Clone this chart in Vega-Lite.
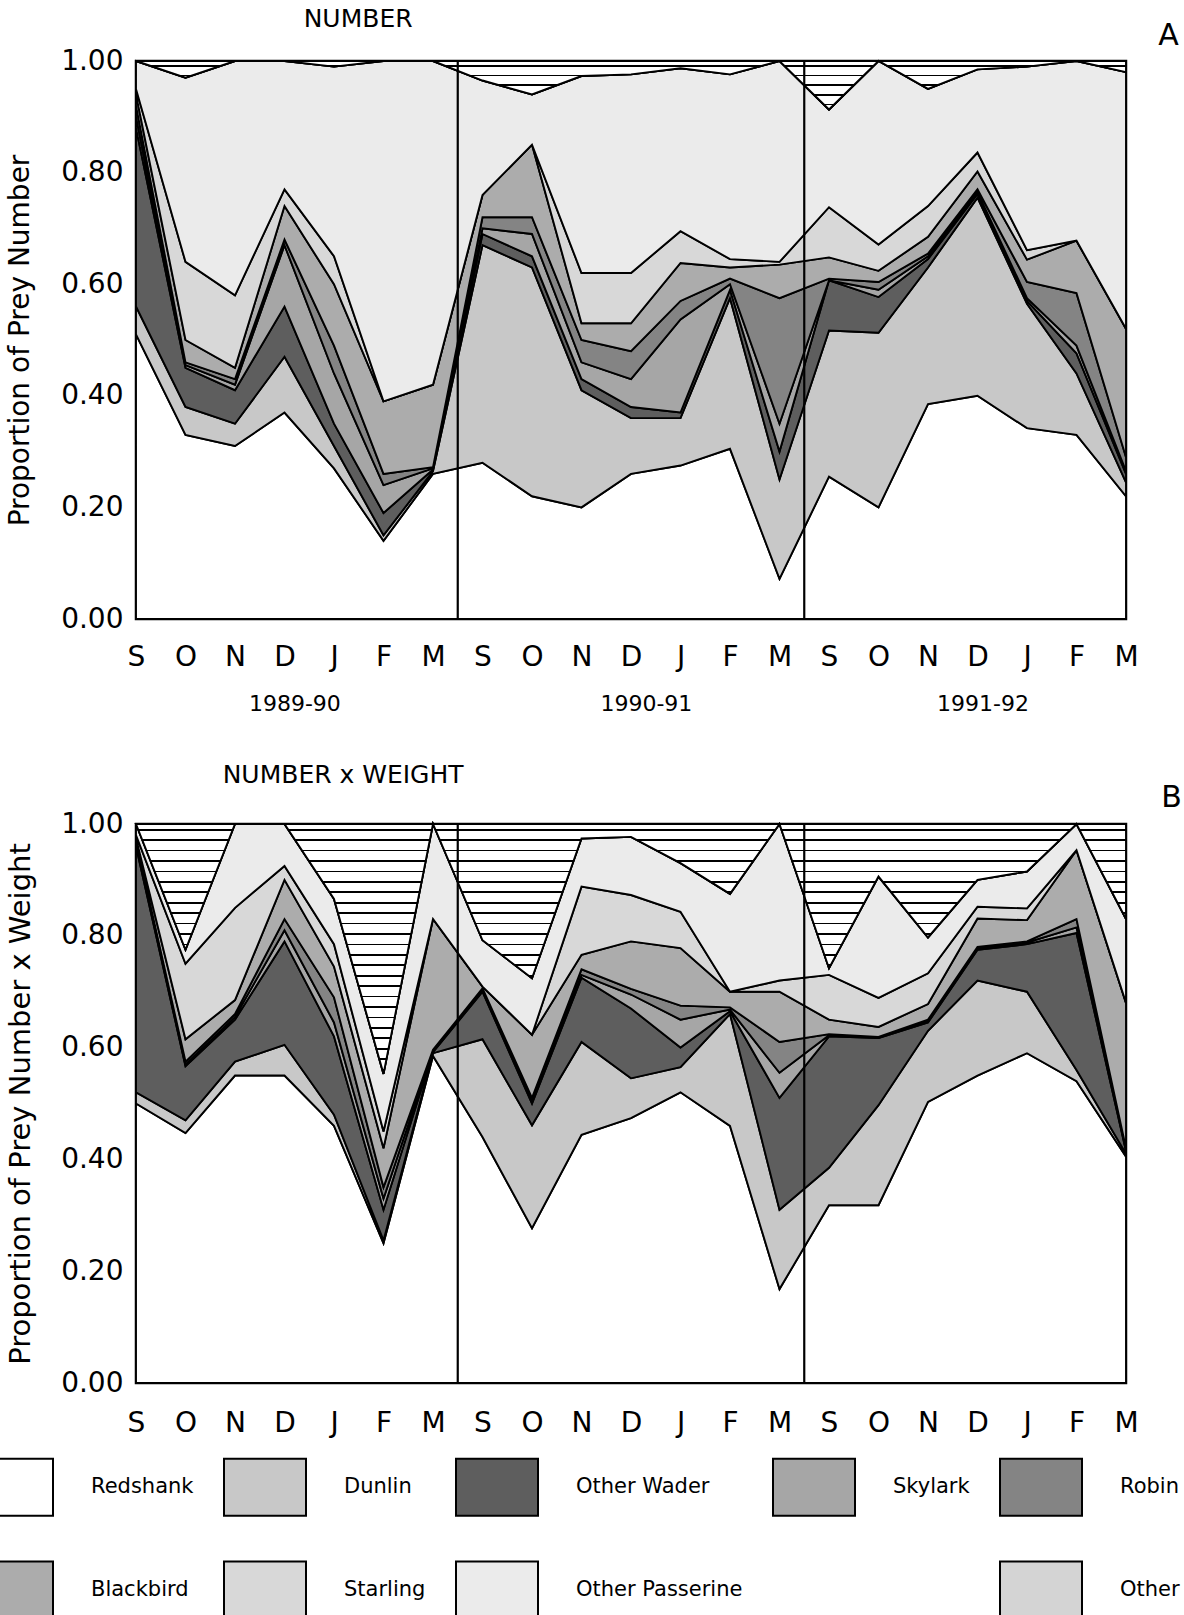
{
  "$schema": "https://vega.github.io/schema/vega-lite/v6.json",
  "background": "white",
  "padding": {"left": -30, "top": 5, "right": 0, "bottom": 0},
  "config": {
    "font": "DejaVu Sans",
    "view": {"stroke": "black", "strokeWidth": 2.5},
    "axis": {"grid": false, "domain": false, "ticks": false, "tickSize": 0, "labelColor": "black", "titleColor": "black", "titleFontWeight": "normal", "labelFont": "DejaVu Sans", "titleFont": "DejaVu Sans", "labelFlush": false, "labelOverlap": false},
    "title": {"fontWeight": "normal", "color": "black", "font": "DejaVu Sans"}
  },
  "datasets": {
    "cats": [
      {"cat": "Redshank", "k": 0}, {"cat": "Dunlin", "k": 1}, {"cat": "Other Wader", "k": 2},
      {"cat": "Skylark", "k": 3}, {"cat": "Robin", "k": 4}, {"cat": "Blackbird", "k": 5},
      {"cat": "Starling", "k": 6}, {"cat": "Other Passerine", "k": 7}, {"cat": "Other", "k": 8}
    ],
    "seps": [{"sep": 6.5}, {"sep": 13.5}],
    "A": [
      {"i": 0, "Redshank": 0.51, "Dunlin": 0.05, "Other Wader": 0.32, "Skylark": 0.02, "Robin": 0.02, "Blackbird": 0.02, "Starling": 0.01, "Other Passerine": 0.05, "Other": 0},
      {"i": 1, "Redshank": 0.33, "Dunlin": 0.05, "Other Wader": 0.07, "Skylark": 0.005, "Robin": 0.005, "Blackbird": 0.04, "Starling": 0.14, "Other Passerine": 0.33, "Other": 0.03},
      {"i": 2, "Redshank": 0.31, "Dunlin": 0.04, "Other Wader": 0.06, "Skylark": 0.01, "Robin": 0.01, "Blackbird": 0.02, "Starling": 0.13, "Other Passerine": 0.42, "Other": 0},
      {"i": 3, "Redshank": 0.37, "Dunlin": 0.10, "Other Wader": 0.09, "Skylark": 0.11, "Robin": 0.01, "Blackbird": 0.06, "Starling": 0.03, "Other Passerine": 0.23, "Other": 0},
      {"i": 4, "Redshank": 0.27, "Dunlin": 0.04, "Other Wader": 0.04, "Skylark": 0.09, "Robin": 0.05, "Blackbird": 0.11, "Starling": 0.05, "Other Passerine": 0.34, "Other": 0.01},
      {"i": 5, "Redshank": 0.14, "Dunlin": 0.01, "Other Wader": 0.04, "Skylark": 0.05, "Robin": 0.02, "Blackbird": 0.13, "Starling": 0, "Other Passerine": 0.61, "Other": 0},
      {"i": 6, "Redshank": 0.26, "Dunlin": 0.005, "Other Wader": 0.003, "Skylark": 0.002, "Robin": 0.002, "Blackbird": 0.148, "Starling": 0, "Other Passerine": 0.58, "Other": 0},
      {"i": 7, "Redshank": 0.28, "Dunlin": 0.39, "Other Wader": 0.02, "Skylark": 0.01, "Robin": 0.02, "Blackbird": 0.04, "Starling": 0, "Other Passerine": 0.205, "Other": 0.035},
      {"i": 8, "Redshank": 0.22, "Dunlin": 0.41, "Other Wader": 0.02, "Skylark": 0.04, "Robin": 0.03, "Blackbird": 0.13, "Starling": 0, "Other Passerine": 0.09, "Other": 0.06},
      {"i": 9, "Redshank": 0.20, "Dunlin": 0.21, "Other Wader": 0.02, "Skylark": 0.03, "Robin": 0.04, "Blackbird": 0.03, "Starling": 0.09, "Other Passerine": 0.353, "Other": 0.027},
      {"i": 10, "Redshank": 0.26, "Dunlin": 0.10, "Other Wader": 0.02, "Skylark": 0.05, "Robin": 0.05, "Blackbird": 0.05, "Starling": 0.09, "Other Passerine": 0.356, "Other": 0.024},
      {"i": 11, "Redshank": 0.275, "Dunlin": 0.085, "Other Wader": 0.01, "Skylark": 0.167, "Robin": 0.033, "Blackbird": 0.068, "Starling": 0.057, "Other Passerine": 0.292, "Other": 0.013},
      {"i": 12, "Redshank": 0.305, "Dunlin": 0.27, "Other Wader": 0.015, "Skylark": 0.01, "Robin": 0.01, "Blackbird": 0.02, "Starling": 0.015, "Other Passerine": 0.331, "Other": 0.024},
      {"i": 13, "Redshank": 0.072, "Dunlin": 0.178, "Other Wader": 0.05, "Skylark": 0.05, "Robin": 0.225, "Blackbird": 0.06, "Starling": 0.005, "Other Passerine": 0.36, "Other": 0},
      {"i": 14, "Redshank": 0.255, "Dunlin": 0.262, "Other Wader": 0.09, "Skylark": 0, "Robin": 0.003, "Blackbird": 0.038, "Starling": 0.09, "Other Passerine": 0.175, "Other": 0.087},
      {"i": 15, "Redshank": 0.20, "Dunlin": 0.313, "Other Wader": 0.064, "Skylark": 0.013, "Robin": 0.014, "Blackbird": 0.02, "Starling": 0.047, "Other Passerine": 0.329, "Other": 0},
      {"i": 16, "Redshank": 0.385, "Dunlin": 0.245, "Other Wader": 0.015, "Skylark": 0.005, "Robin": 0.005, "Blackbird": 0.03, "Starling": 0.055, "Other Passerine": 0.21, "Other": 0.05},
      {"i": 17, "Redshank": 0.40, "Dunlin": 0.355, "Other Wader": 0.007, "Skylark": 0.003, "Robin": 0.005, "Blackbird": 0.032, "Starling": 0.034, "Other Passerine": 0.149, "Other": 0.015},
      {"i": 18, "Redshank": 0.342, "Dunlin": 0.223, "Other Wader": 0.005, "Skylark": 0.005, "Robin": 0.029, "Blackbird": 0.04, "Starling": 0.017, "Other Passerine": 0.329, "Other": 0.01},
      {"i": 19, "Redshank": 0.33, "Dunlin": 0.11, "Other Wader": 0.036, "Skylark": 0.014, "Robin": 0.094, "Blackbird": 0.094, "Starling": 0, "Other Passerine": 0.322, "Other": 0},
      {"i": 20, "Redshank": 0.22, "Dunlin": 0.025, "Other Wader": 0.015, "Skylark": 0.005, "Robin": 0.025, "Blackbird": 0.23, "Starling": 0, "Other Passerine": 0.46, "Other": 0.02}
    ],
    "B": [
      {"i": 0, "Redshank": 0.50, "Dunlin": 0.02, "Other Wader": 0.44, "Skylark": 0.005, "Robin": 0.005, "Blackbird": 0.005, "Starling": 0.005, "Other Passerine": 0.02, "Other": 0},
      {"i": 1, "Redshank": 0.447, "Dunlin": 0.023, "Other Wader": 0.097, "Skylark": 0.003, "Robin": 0.005, "Blackbird": 0.04, "Starling": 0.135, "Other Passerine": 0.025, "Other": 0.225},
      {"i": 2, "Redshank": 0.55, "Dunlin": 0.025, "Other Wader": 0.075, "Skylark": 0.005, "Robin": 0.005, "Blackbird": 0.025, "Starling": 0.165, "Other Passerine": 0.15, "Other": 0},
      {"i": 3, "Redshank": 0.55, "Dunlin": 0.055, "Other Wader": 0.185, "Skylark": 0.02, "Robin": 0.02, "Blackbird": 0.07, "Starling": 0.025, "Other Passerine": 0.075, "Other": 0},
      {"i": 4, "Redshank": 0.46, "Dunlin": 0.02, "Other Wader": 0.14, "Skylark": 0.025, "Robin": 0.045, "Blackbird": 0.055, "Starling": 0.04, "Other Passerine": 0.081, "Other": 0.134},
      {"i": 5, "Redshank": 0.25, "Dunlin": 0.005, "Other Wader": 0.055, "Skylark": 0.02, "Robin": 0.02, "Blackbird": 0.07, "Starling": 0.03, "Other Passerine": 0.103, "Other": 0.447},
      {"i": 6, "Redshank": 0.585, "Dunlin": 0.005, "Other Wader": 0.002, "Skylark": 0.002, "Robin": 0.002, "Blackbird": 0.234, "Starling": 0, "Other Passerine": 0.17, "Other": 0},
      {"i": 7, "Redshank": 0.44, "Dunlin": 0.175, "Other Wader": 0.085, "Skylark": 0.003, "Robin": 0.003, "Blackbird": 0.003, "Starling": 0, "Other Passerine": 0.083, "Other": 0.208},
      {"i": 8, "Redshank": 0.277, "Dunlin": 0.184, "Other Wader": 0.039, "Skylark": 0.005, "Robin": 0.005, "Blackbird": 0.113, "Starling": 0, "Other Passerine": 0.101, "Other": 0.276},
      {"i": 9, "Redshank": 0.444, "Dunlin": 0.166, "Other Wader": 0.115, "Skylark": 0.005, "Robin": 0.01, "Blackbird": 0.026, "Starling": 0.122, "Other Passerine": 0.086, "Other": 0.026},
      {"i": 10, "Redshank": 0.474, "Dunlin": 0.071, "Other Wader": 0.125, "Skylark": 0.025, "Robin": 0.01, "Blackbird": 0.085, "Starling": 0.083, "Other Passerine": 0.104, "Other": 0.023},
      {"i": 11, "Redshank": 0.52, "Dunlin": 0.045, "Other Wader": 0.035, "Skylark": 0.05, "Robin": 0.025, "Blackbird": 0.103, "Starling": 0.065, "Other Passerine": 0.087, "Other": 0.07},
      {"i": 12, "Redshank": 0.46, "Dunlin": 0.20, "Other Wader": 0.005, "Skylark": 0.003, "Robin": 0.004, "Blackbird": 0.028, "Starling": 0, "Other Passerine": 0.175, "Other": 0.125},
      {"i": 13, "Redshank": 0.168, "Dunlin": 0.142, "Other Wader": 0.20, "Skylark": 0.045, "Robin": 0.055, "Blackbird": 0.09, "Starling": 0.02, "Other Passerine": 0.28, "Other": 0},
      {"i": 14, "Redshank": 0.318, "Dunlin": 0.067, "Other Wader": 0.235, "Skylark": 0.002, "Robin": 0.002, "Blackbird": 0.026, "Starling": 0.08, "Other Passerine": 0.012, "Other": 0.258},
      {"i": 15, "Redshank": 0.318, "Dunlin": 0.179, "Other Wader": 0.12, "Skylark": 0.001, "Robin": 0.001, "Blackbird": 0.018, "Starling": 0.052, "Other Passerine": 0.217, "Other": 0.094},
      {"i": 16, "Redshank": 0.503, "Dunlin": 0.127, "Other Wader": 0.015, "Skylark": 0.003, "Robin": 0.002, "Blackbird": 0.028, "Starling": 0.055, "Other Passerine": 0.064, "Other": 0.203},
      {"i": 17, "Redshank": 0.55, "Dunlin": 0.17, "Other Wader": 0.055, "Skylark": 0.003, "Robin": 0.002, "Blackbird": 0.051, "Starling": 0.021, "Other Passerine": 0.048, "Other": 0.10},
      {"i": 18, "Redshank": 0.59, "Dunlin": 0.11, "Other Wader": 0.085, "Skylark": 0.003, "Robin": 0.002, "Blackbird": 0.038, "Starling": 0.021, "Other Passerine": 0.066, "Other": 0.085},
      {"i": 19, "Redshank": 0.54, "Dunlin": 0.02, "Other Wader": 0.245, "Skylark": 0.01, "Robin": 0.015, "Blackbird": 0.123, "Starling": 0, "Other Passerine": 0.047, "Other": 0},
      {"i": 20, "Redshank": 0.405, "Dunlin": 0.005, "Other Wader": 0.005, "Skylark": 0.002, "Robin": 0.003, "Blackbird": 0.26, "Starling": 0, "Other Passerine": 0.15, "Other": 0.17}
    ]
  },
  "spacing": 45,
  "vconcat": [
    {
      "width": 990,
      "height": 558,
      "title": {"text": "NUMBER", "anchor": "start", "dx": 297, "fontSize": 25, "offset": -12},
      "layer": [
        {
          "data": {"name": "A"},
          "transform": [
            {"fold": ["Redshank", "Dunlin", "Other Wader", "Skylark", "Robin", "Blackbird", "Starling", "Other Passerine", "Other"], "as": ["cat", "p"]},
            {"lookup": "cat", "from": {"data": {"name": "cats"}, "key": "cat", "fields": ["k"]}}
          ],
          "mark": {"type": "area", "stroke": "black", "strokeWidth": 1.9, "opacity": 1, "strokeMiterLimit": 4},
          "encoding": {
            "x": {"field": "i", "type": "quantitative", "scale": {"domain": [0, 20], "nice": false, "zero": false},
                  "axis": {"values": [0,1,2,3,4,5,6,7,8,9,10,11,12,13,14,15,16,17,18,19,20], "labelExpr": "['S','O','N','D','J','F','M'][datum.value % 7]", "labelFontSize": 28, "labelPadding": 24, "title": null}},
            "y": {"field": "p", "type": "quantitative", "stack": "zero", "scale": {"domain": [0, 1], "nice": false},
                  "axis": {"values": [0, 0.2, 0.4, 0.6, 0.8, 1], "format": ".2f", "labelFontSize": 28, "labelPadding": 13, "title": "Proportion of Prey Number", "titleFontSize": 28, "titlePadding": 26}},
            "color": {"field": "cat", "type": "nominal",
                      "scale": {"domain": ["Redshank", "Dunlin", "Other Wader", "Skylark", "Robin", "Blackbird", "Starling", "Other Passerine", " ", "Other"],
                                "range": ["#ffffff", "#c8c8c8", "#5e5e5e", "#a6a6a6", "#848484", "#acacac", "#d8d8d8", "#ebebeb", "#ffffff", "#d4d4d4"]},
                      "legend": {"title": null, "orient": "none", "legendX": -166, "legendY": 1384, "direction": "horizontal", "columns": 5,
                                 "symbolType": "M-1,-0.695H1V0.695H-1Z", "symbolSize": 6724, "symbolStrokeColor": "black", "symbolStrokeWidth": 2, "symbolOpacity": 1,
                                 "labelFontSize": 21, "labelFont": "DejaVu Sans", "labelColor": "black", "labelOffset": 37, "labelLimit": 400,
                                 "columnPadding": 26, "rowPadding": 28, "padding": 0,
                                 "encode": {"symbols": {"update": {"opacity": {"signal": "datum.value === ' ' ? 0 : 1"}}}}}},
            "order": {"field": "k", "type": "quantitative"}
          }
        },
        {
          "data": {"name": "A"},
          "transform": [
            {"fold": ["Redshank", "Dunlin", "Other Wader", "Skylark", "Robin", "Blackbird", "Starling", "Other Passerine", "Other"], "as": ["cat", "p"]},
            {"lookup": "cat", "from": {"data": {"name": "cats"}, "key": "cat", "fields": ["k"]}},
            {"stack": "p", "groupby": ["i"], "sort": [{"field": "k", "order": "ascending"}], "as": ["lo", "hi"], "offset": "zero"},
            {"filter": "datum.cat === 'Other'"}
          ],
          "mark": {"type": "area", "stroke": "black", "strokeWidth": 1.9, "strokeMiterLimit": 4,
                   "color": {"gradient": "linear", "x1": 0, "y1": 0, "x2": 0, "y2": 1, "stops": [
                     {"offset": 0, "color": "#ffffff"},
                     {"offset": 0.08, "color": "#ffffff"}, {"offset": 0.08, "color": "#000000"}, {"offset": 0.115, "color": "#000000"}, {"offset": 0.115, "color": "#ffffff"},
                     {"offset": 0.28, "color": "#ffffff"}, {"offset": 0.28, "color": "#000000"}, {"offset": 0.315, "color": "#000000"}, {"offset": 0.315, "color": "#ffffff"},
                     {"offset": 0.48, "color": "#ffffff"}, {"offset": 0.48, "color": "#000000"}, {"offset": 0.515, "color": "#000000"}, {"offset": 0.515, "color": "#ffffff"},
                     {"offset": 0.68, "color": "#ffffff"}, {"offset": 0.68, "color": "#000000"}, {"offset": 0.715, "color": "#000000"}, {"offset": 0.715, "color": "#ffffff"},
                     {"offset": 0.88, "color": "#ffffff"}, {"offset": 0.88, "color": "#000000"}, {"offset": 0.915, "color": "#000000"}, {"offset": 0.915, "color": "#ffffff"},
                     {"offset": 1, "color": "#ffffff"}]}},
          "encoding": {
            "x": {"field": "i", "type": "quantitative", "axis": null},
            "y": {"field": "hi", "type": "quantitative", "axis": null},
            "y2": {"field": "lo"}
          }
        },
        {
          "data": {"name": "seps"},
          "mark": {"type": "rule", "color": "black", "strokeWidth": 2.2},
          "encoding": {
            "x": {"field": "sep", "type": "quantitative",
                  "axis": {"orient": "bottom", "values": [3.2, 10.3, 17.1], "labelExpr": "datum.value < 5 ? '1989-90' : datum.value < 12 ? '1990-91' : '1991-92'", "labelFontSize": 22, "labelPadding": 74, "title": null}},
            "y": {"datum": 0, "type": "quantitative",
                  "axis": {"orient": "right", "labels": false, "title": "A", "titleAngle": 0, "titleFontSize": 30, "titleX": 42, "titleY": -26, "titleAlign": "center", "titleBaseline": "middle"}},
            "y2": {"datum": 1}
          }
        }
      ],
      "resolve": {"axis": {"x": "independent", "y": "independent"}}
    },
    {
      "width": 990,
      "height": 559,
      "title": {"text": "NUMBER x WEIGHT", "anchor": "start", "dx": 216, "fontSize": 25, "offset": -6},
      "layer": [
        {
          "data": {"name": "B"},
          "transform": [
            {"fold": ["Redshank", "Dunlin", "Other Wader", "Skylark", "Robin", "Blackbird", "Starling", "Other Passerine", "Other"], "as": ["cat", "p"]},
            {"lookup": "cat", "from": {"data": {"name": "cats"}, "key": "cat", "fields": ["k"]}}
          ],
          "mark": {"type": "area", "stroke": "black", "strokeWidth": 1.9, "opacity": 1, "strokeMiterLimit": 4},
          "encoding": {
            "x": {"field": "i", "type": "quantitative", "scale": {"domain": [0, 20], "nice": false, "zero": false},
                  "axis": {"values": [0,1,2,3,4,5,6,7,8,9,10,11,12,13,14,15,16,17,18,19,20], "labelExpr": "['S','O','N','D','J','F','M'][datum.value % 7]", "labelFontSize": 28, "labelPadding": 26, "title": null}},
            "y": {"field": "p", "type": "quantitative", "stack": "zero", "scale": {"domain": [0, 1], "nice": false},
                  "axis": {"values": [0, 0.2, 0.4, 0.6, 0.8, 1], "format": ".2f", "labelFontSize": 28, "labelPadding": 13, "title": "Proportion of Prey Number x Weight", "titleFontSize": 29, "titlePadding": 25}},
            "color": {"field": "cat", "type": "nominal",
                      "scale": {"domain": ["Redshank", "Dunlin", "Other Wader", "Skylark", "Robin", "Blackbird", "Starling", "Other Passerine", " ", "Other"],
                                "range": ["#ffffff", "#c8c8c8", "#5e5e5e", "#a6a6a6", "#848484", "#acacac", "#d8d8d8", "#ebebeb", "#ffffff", "#d4d4d4"]},
                      "legend": {"title": null, "orient": "none", "legendX": -166, "legendY": 1384, "direction": "horizontal", "columns": 5,
                                 "symbolType": "M-1,-0.695H1V0.695H-1Z", "symbolSize": 6724, "symbolStrokeColor": "black", "symbolStrokeWidth": 2, "symbolOpacity": 1,
                                 "labelFontSize": 21, "labelFont": "DejaVu Sans", "labelColor": "black", "labelOffset": 37, "labelLimit": 400,
                                 "columnPadding": 26, "rowPadding": 28, "padding": 0,
                                 "encode": {"symbols": {"update": {"opacity": {"signal": "datum.value === ' ' ? 0 : 1"}}}}}},
            "order": {"field": "k", "type": "quantitative"}
          }
        },
        {
          "data": {"name": "B"},
          "transform": [
            {"fold": ["Redshank", "Dunlin", "Other Wader", "Skylark", "Robin", "Blackbird", "Starling", "Other Passerine", "Other"], "as": ["cat", "p"]},
            {"lookup": "cat", "from": {"data": {"name": "cats"}, "key": "cat", "fields": ["k"]}},
            {"stack": "p", "groupby": ["i"], "sort": [{"field": "k", "order": "ascending"}], "as": ["lo", "hi"], "offset": "zero"},
            {"filter": "datum.cat === 'Other'"}
          ],
          "mark": {"type": "area", "stroke": "black", "strokeWidth": 1.9, "strokeMiterLimit": 4,
                   "color": {"gradient": "linear", "x1": 0, "y1": 0, "x2": 0, "y2": 1, "stops": [
                     {"offset": 0, "color": "#ffffff"},
                     {"offset": 0.020, "color": "#ffffff"}, {"offset": 0.020, "color": "#000000"}, {"offset": 0.027, "color": "#000000"}, {"offset": 0.027, "color": "#ffffff"},
                     {"offset": 0.062, "color": "#ffffff"}, {"offset": 0.062, "color": "#000000"}, {"offset": 0.069, "color": "#000000"}, {"offset": 0.069, "color": "#ffffff"},
                     {"offset": 0.103, "color": "#ffffff"}, {"offset": 0.103, "color": "#000000"}, {"offset": 0.110, "color": "#000000"}, {"offset": 0.110, "color": "#ffffff"},
                     {"offset": 0.145, "color": "#ffffff"}, {"offset": 0.145, "color": "#000000"}, {"offset": 0.152, "color": "#000000"}, {"offset": 0.152, "color": "#ffffff"},
                     {"offset": 0.187, "color": "#ffffff"}, {"offset": 0.187, "color": "#000000"}, {"offset": 0.194, "color": "#000000"}, {"offset": 0.194, "color": "#ffffff"},
                     {"offset": 0.229, "color": "#ffffff"}, {"offset": 0.229, "color": "#000000"}, {"offset": 0.236, "color": "#000000"}, {"offset": 0.236, "color": "#ffffff"},
                     {"offset": 0.270, "color": "#ffffff"}, {"offset": 0.270, "color": "#000000"}, {"offset": 0.277, "color": "#000000"}, {"offset": 0.277, "color": "#ffffff"},
                     {"offset": 0.312, "color": "#ffffff"}, {"offset": 0.312, "color": "#000000"}, {"offset": 0.319, "color": "#000000"}, {"offset": 0.319, "color": "#ffffff"},
                     {"offset": 0.354, "color": "#ffffff"}, {"offset": 0.354, "color": "#000000"}, {"offset": 0.361, "color": "#000000"}, {"offset": 0.361, "color": "#ffffff"},
                     {"offset": 0.395, "color": "#ffffff"}, {"offset": 0.395, "color": "#000000"}, {"offset": 0.402, "color": "#000000"}, {"offset": 0.402, "color": "#ffffff"},
                     {"offset": 0.437, "color": "#ffffff"}, {"offset": 0.437, "color": "#000000"}, {"offset": 0.444, "color": "#000000"}, {"offset": 0.444, "color": "#ffffff"},
                     {"offset": 0.479, "color": "#ffffff"}, {"offset": 0.479, "color": "#000000"}, {"offset": 0.486, "color": "#000000"}, {"offset": 0.486, "color": "#ffffff"},
                     {"offset": 0.520, "color": "#ffffff"}, {"offset": 0.520, "color": "#000000"}, {"offset": 0.527, "color": "#000000"}, {"offset": 0.527, "color": "#ffffff"},
                     {"offset": 0.562, "color": "#ffffff"}, {"offset": 0.562, "color": "#000000"}, {"offset": 0.569, "color": "#000000"}, {"offset": 0.569, "color": "#ffffff"},
                     {"offset": 0.604, "color": "#ffffff"}, {"offset": 0.604, "color": "#000000"}, {"offset": 0.611, "color": "#000000"}, {"offset": 0.611, "color": "#ffffff"},
                     {"offset": 0.646, "color": "#ffffff"}, {"offset": 0.646, "color": "#000000"}, {"offset": 0.653, "color": "#000000"}, {"offset": 0.653, "color": "#ffffff"},
                     {"offset": 0.687, "color": "#ffffff"}, {"offset": 0.687, "color": "#000000"}, {"offset": 0.694, "color": "#000000"}, {"offset": 0.694, "color": "#ffffff"},
                     {"offset": 0.729, "color": "#ffffff"}, {"offset": 0.729, "color": "#000000"}, {"offset": 0.736, "color": "#000000"}, {"offset": 0.736, "color": "#ffffff"},
                     {"offset": 0.771, "color": "#ffffff"}, {"offset": 0.771, "color": "#000000"}, {"offset": 0.778, "color": "#000000"}, {"offset": 0.778, "color": "#ffffff"},
                     {"offset": 0.812, "color": "#ffffff"}, {"offset": 0.812, "color": "#000000"}, {"offset": 0.819, "color": "#000000"}, {"offset": 0.819, "color": "#ffffff"},
                     {"offset": 0.854, "color": "#ffffff"}, {"offset": 0.854, "color": "#000000"}, {"offset": 0.861, "color": "#000000"}, {"offset": 0.861, "color": "#ffffff"},
                     {"offset": 0.896, "color": "#ffffff"}, {"offset": 0.896, "color": "#000000"}, {"offset": 0.903, "color": "#000000"}, {"offset": 0.903, "color": "#ffffff"},
                     {"offset": 0.937, "color": "#ffffff"}, {"offset": 0.937, "color": "#000000"}, {"offset": 0.944, "color": "#000000"}, {"offset": 0.944, "color": "#ffffff"},
                     {"offset": 0.979, "color": "#ffffff"}, {"offset": 0.979, "color": "#000000"}, {"offset": 0.986, "color": "#000000"}, {"offset": 0.986, "color": "#ffffff"},
                     {"offset": 1, "color": "#ffffff"}]}},
          "encoding": {
            "x": {"field": "i", "type": "quantitative", "axis": null},
            "y": {"field": "hi", "type": "quantitative", "axis": null},
            "y2": {"field": "lo"}
          }
        },
        {
          "data": {"name": "seps"},
          "mark": {"type": "rule", "color": "black", "strokeWidth": 2.2},
          "encoding": {
            "x": {"field": "sep", "type": "quantitative", "axis": null},
            "y": {"datum": 0, "type": "quantitative",
                  "axis": {"orient": "right", "labels": false, "title": "B", "titleAngle": 0, "titleFontSize": 30, "titleX": 45, "titleY": -27, "titleAlign": "center", "titleBaseline": "middle"}},
            "y2": {"datum": 1}
          }
        }
      ],
      "resolve": {"axis": {"x": "independent", "y": "independent"}}
    }
  ]
}
